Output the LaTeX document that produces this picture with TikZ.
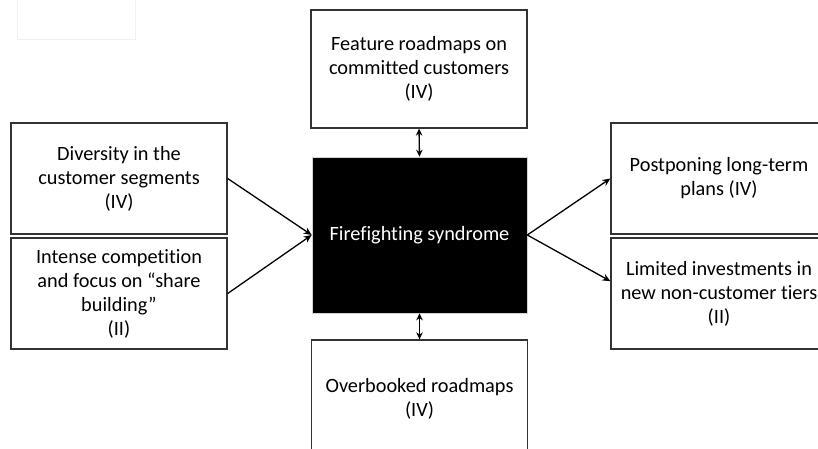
\documentclass[tikz,border=0pt]{standalone}
\usepackage{fontspec}
\setmainfont{Carlito}[Ligatures=NoCommon]
\usetikzlibrary{arrows.meta,calc}

\tikzset{
  causebox/.style={draw=black!80, line width=1.3pt, fill=white, minimum width=216pt,
    inner sep=0pt, align=center, font=\fontsize{20.3}{24}\selectfont},
  link/.style={line width=1.3pt, -{Stealth[length=8pt,width=7pt]}},
  twoway/.style={line width=1.3pt, {Stealth[length=7pt,width=6.5pt]}-{Stealth[length=7pt,width=6.5pt]}}
}

\begin{document}
\begin{tikzpicture}[x=1pt,y=-1pt]
  \useasboundingbox (0,0) rectangle (818,448);

  % faint frame in the corner
  \draw[gray!12, line width=0.8pt] (17,-5) rectangle (135,39);

  % centre
  \node[causebox, fill=black, draw=gray!35, line width=0.6pt, text=white,
        minimum width=215pt, minimum height=156pt] (fire) at (419.5,235) {Firefighting syndrome};

  % above and below
  \node[causebox, minimum height=118pt] (feature) at (419,69) {Feature roadmaps on\\committed customers\\(IV)};
  \node[causebox, minimum height=118pt] (overbook) at (419.5,399) {Overbooked roadmaps\\(IV)};

  % causes on the left
  \node[causebox, minimum height=111pt] (divers) at (119,178.5) {Diversity in the\\customer segments\\(IV)};
  \node[causebox, minimum height=111pt] (compete) at (119,293.5) {Intense competition\\and focus on “share\\building”\\(II)};

  % effects on the right
  \node[causebox, minimum height=111pt] (postpone) at (719,178.5) {Postponing long-term\\plans (IV)};
  \node[causebox, minimum height=111pt] (limit) at (719,293.5) {Limited investments in\\new non-customer tiers\\(II)};
  \coordinate (limitin) at ($(limit.north west)!0.39!(limit.south west)$);

  % connectors
  \draw[link] (divers.east) -- (fire.west);
  \draw[link] (compete.east) -- (fire.west);
  \draw[link] (fire.east) -- (postpone.west);
  \draw[link] (fire.east) -- (limitin);
  \draw[twoway] (feature.south) -- (fire.north);
  \draw[twoway] (fire.south) -- (overbook.north);

\end{tikzpicture}
\end{document}
